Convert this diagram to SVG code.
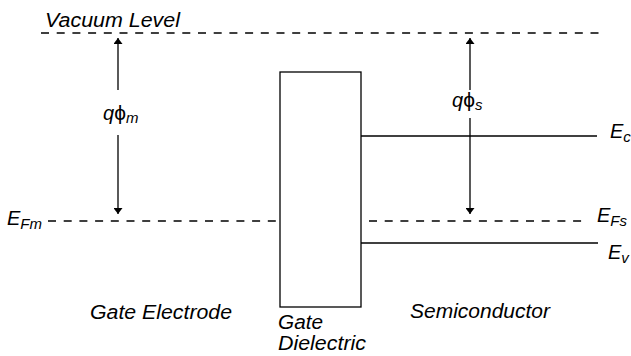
<svg xmlns="http://www.w3.org/2000/svg" width="631" height="356" viewBox="0 0 631 356">
<style>
.t{font-family:"Liberation Sans",Arial,sans-serif;font-style:italic;font-size:20px;fill:#000}
.s{font-size:15px}
.ln{stroke:#000;stroke-width:1.3;fill:none}
.d{stroke-dasharray:8 7.7}
.ph{font-style:normal;font-size:21px}
</style>
<defs>
<marker id="ah" viewBox="0 0 10 10" refX="10" refY="5" markerWidth="6" markerHeight="9" markerUnits="userSpaceOnUse" orient="auto" preserveAspectRatio="none">
<path d="M0,0 L10,5 L0,10 Z" fill="#000"/>
</marker>
</defs>
<rect width="631" height="356" fill="#fff"/>
<g id="connectors">
<line class="ln d" x1="41" y1="33" x2="605" y2="33"/>
<line class="ln d" x1="48" y1="221" x2="280" y2="221"/>
<line class="ln d" x1="369" y1="221" x2="586" y2="221"/>
<line class="ln" x1="361" y1="136" x2="597" y2="136"/>
<line class="ln" x1="361" y1="243" x2="598" y2="243"/>
<line class="ln" x1="118" y1="90" x2="118" y2="38" marker-end="url(#ah)"/>
<line class="ln" x1="118" y1="135" x2="118" y2="214" marker-end="url(#ah)"/>
<line class="ln" x1="470" y1="90" x2="470" y2="38" marker-end="url(#ah)"/>
<line class="ln" x1="470" y1="118" x2="470" y2="214" marker-end="url(#ah)"/>
</g>
<g id="dielectric">
<rect class="ln" x="280" y="72" width="81" height="235"/>
</g>
<g id="labels">
<text class="t" x="45" y="27" textLength="135" lengthAdjust="spacingAndGlyphs">Vacuum Level</text>
<text class="t" x="103" y="120">q<tspan class="ph">ϕ</tspan><tspan class="s" dy="3">m</tspan></text>
<text class="t" x="452" y="107">q<tspan class="ph">ϕ</tspan><tspan class="s" dy="3">s</tspan></text>
<text class="t" x="7" y="225">E<tspan class="s" dy="4">Fm</tspan></text>
<text class="t" x="597" y="222">E<tspan class="s" dy="4">Fs</tspan></text>
<text class="t" x="610" y="138">E<tspan class="s" dy="4">c</tspan></text>
<text class="t" x="608" y="259">E<tspan class="s" dy="4">v</tspan></text>
<text class="t" x="90" y="319" textLength="142" lengthAdjust="spacingAndGlyphs">Gate Electrode</text>
<text class="t" x="410" y="318" textLength="140" lengthAdjust="spacingAndGlyphs">Semiconductor</text>
<text class="t" x="278" y="329" textLength="45" lengthAdjust="spacingAndGlyphs">Gate</text>
<text class="t" x="278" y="350" textLength="88" lengthAdjust="spacingAndGlyphs">Dielectric</text>
</g>
</svg>
